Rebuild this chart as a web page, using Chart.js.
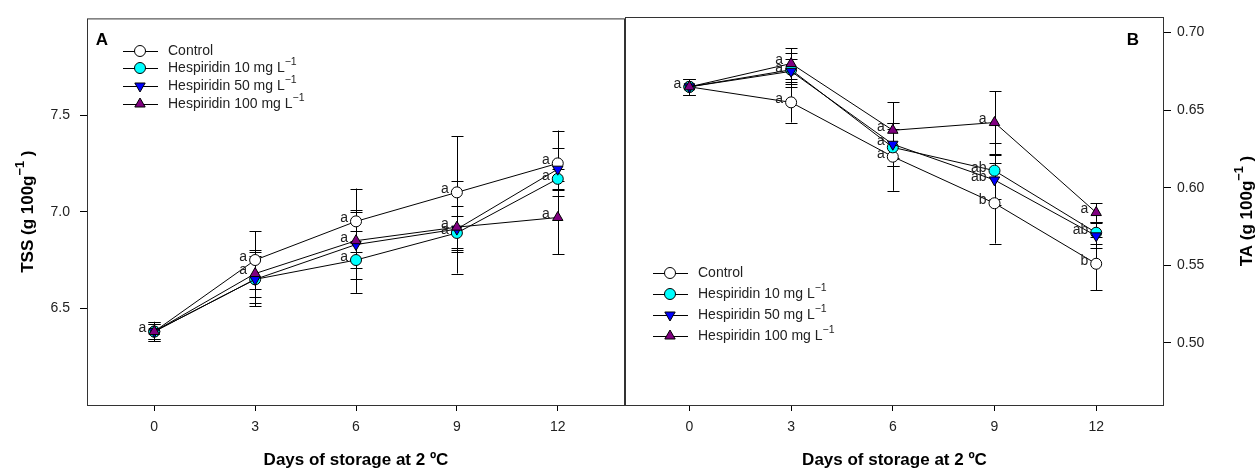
<!DOCTYPE html>
<html>
<head>
<meta charset="utf-8">
<script src="https://cdn.jsdelivr.net/npm/chart.js@4.4.1/dist/chart.umd.min.js"></script>
<style>
  body { margin: 0; background: #fff; width: 1258px; height: 473px; overflow: hidden; position: relative; }
  canvas { position: absolute; top: 0; }
  #tssChart { left: 0; }
  #taChart { left: 625px; }
</style>
</head>
<body>
<canvas id="tssChart" width="625" height="473"></canvas>
<canvas id="taChart" width="633" height="473"></canvas>
<script>
const days = [0, 3, 6, 9, 12];
const seriesNames = ["Control", "Hespiridin 10 mg L", "Hespiridin 50 mg L", "Hespiridin 100 mg L"];

// TSS (panel A)
const tssControl = [6.38, 6.75, 6.95, 7.10, 7.25];
const tssH10 = [6.38, 6.65, 6.75, 6.89, 7.17];
const tssH50 = [6.38, 6.65, 6.83, 6.91, 7.22];
const tssH100 = [6.38, 6.68, 6.85, 6.92, 6.97];
const tssControlErr = [0.05, 0.15, 0.05, 0.29, 0.17];
const tssH10Err = [0.04, 0.12, 0.04, 0.09, 0.05];
const tssH50Err = [0.04, 0.14, 0.18, 0.12, 0.11];
const tssH100Err = [0.05, 0.12, 0.27, 0.24, 0.19];
const tssControlLetters = ["a", "a", "a", "a", "a"];
const tssH10Letters = ["", "", "a", "a", "a"];
const tssH50Letters = ["", "", "", "", ""];
const tssH100Letters = ["", "a", "a", "a", "a"];
const tssTicks = [6.5, 7.0, 7.5];

// TA (panel B)
const taControl = [0.665, 0.655, 0.620, 0.590, 0.551];
const taH10 = [0.665, 0.676, 0.626, 0.611, 0.571];
const taH50 = [0.665, 0.675, 0.628, 0.605, 0.569];
const taH100 = [0.665, 0.680, 0.637, 0.642, 0.584];
const taControlErr = [0.005, 0.013, 0.022, 0.026, 0.017];
const taH10Err = [0.005, 0.011, 0.012, 0.018, 0.007];
const taH50Err = [0.005, 0.008, 0.014, 0.016, 0.008];
const taH100Err = [0.005, 0.010, 0.018, 0.020, 0.006];
const taControlLetters = ["a", "a", "a", "b", "b"];
const taH10Letters = ["", "", "", "ab", "ab"];
const taH50Letters = ["", "a", "a", "ab", ""];
const taH100Letters = ["", "a", "a", "a", "a"];
const taTicks = [0.50, 0.55, 0.60, 0.65, 0.70];

const xTicks = [0, 3, 6, 9, 12];
const FONT = "'Liberation Sans', Arial, sans-serif";

const styles = [
  { bg: "#ffffff", pointStyle: "circle", rotation: 0, order: 4 },
  { bg: "#00ffff", pointStyle: "circle", rotation: 0, order: 3 },
  { bg: "#0000ff", pointStyle: "triangle", rotation: 180, order: 2 },
  { bg: "#800080", pointStyle: "triangle", rotation: 0, order: 1 },
];

function makeDatasets(values, errs, letters) {
  return values.map((vals, i) => ({
    label: seriesNames[i],
    data: days.map((d, j) => ({ x: d, y: vals[j] })),
    err: errs[i],
    letters: letters[i],
    borderColor: "#000",
    borderWidth: 1,
    backgroundColor: styles[i].bg,
    pointBackgroundColor: styles[i].bg,
    pointBorderColor: "#000",
    pointBorderWidth: 1,
    pointStyle: styles[i].pointStyle,
    pointRotation: styles[i].rotation,
    pointRadius: styles[i].pointStyle === "triangle" ? 6 : 5.5,
    order: styles[i].order,
    tension: 0,
  }));
}

// text with superscript "-1"
function drawRich(ctx, x, y, parts, size, bold, align) {
  const f = s => (bold ? "bold " : "") + s + "px " + FONT;
  let w = 0;
  parts.forEach(p => { ctx.font = f(p.sup ? size * 0.75 : size); w += ctx.measureText(p.t).width; });
  let cx = align === "center" ? x - w / 2 : x;
  ctx.textAlign = "left";
  ctx.textBaseline = "middle";
  parts.forEach(p => {
    ctx.font = f(p.sup ? size * 0.75 : size);
    ctx.fillText(p.t, cx, p.sup ? y - size * 0.42 : y);
    cx += ctx.measureText(p.t).width;
  });
}

function drawMarker(ctx, i, x, y) {
  const s = styles[i];
  ctx.save();
  ctx.fillStyle = s.bg;
  ctx.strokeStyle = "#000";
  ctx.lineWidth = 1;
  Chart.helpers.drawPoint(ctx, {
    pointStyle: s.pointStyle,
    rotation: s.rotation,
    radius: s.pointStyle === "triangle" ? 6 : 5.5,
    borderWidth: 1,
  }, x, y);
  ctx.restore();
}

const panelPlugin = {
  id: "panel",
  beforeDatasetsDraw(chart, args, opts) {
    const ctx = chart.ctx;
    const ys = chart.scales.y;
    ctx.save();
    ctx.strokeStyle = "#000";
    ctx.lineWidth = 1;
    chart.data.datasets.forEach((ds, i) => {
      const meta = chart.getDatasetMeta(i);
      ds.data.forEach((p, j) => {
        const x = Math.round(meta.data[j].x) + 0.5;
        const top = ys.getPixelForValue(p.y + ds.err[j]);
        const bot = ys.getPixelForValue(p.y - ds.err[j]);
        ctx.beginPath();
        ctx.moveTo(x, top); ctx.lineTo(x, bot);
        ctx.moveTo(x - 6, Math.round(top) + 0.5); ctx.lineTo(x + 6, Math.round(top) + 0.5);
        ctx.moveTo(x - 6, Math.round(bot) + 0.5); ctx.lineTo(x + 6, Math.round(bot) + 0.5);
        ctx.stroke();
      });
    });
    ctx.restore();
  },
  afterDraw(chart, args, opts) {
    const ctx = chart.ctx;
    const a = chart.chartArea;
    ctx.save();
    // frame
    ctx.strokeStyle = "#333";
    ctx.lineWidth = 1;
    ctx.strokeRect(a.left + 0.5, a.top + 0.5, a.right - a.left - 1, a.bottom - a.top);
    // letters
    ctx.fillStyle = "#222";
    ctx.font = "14px " + FONT;
    ctx.textAlign = "right";
    ctx.textBaseline = "middle";
    chart.data.datasets.forEach((ds, i) => {
      const meta = chart.getDatasetMeta(i);
      ds.letters.forEach((l, j) => {
        if (l) ctx.fillText(l, meta.data[j].x - 8, meta.data[j].y - 3);
      });
    });
    // panel letter
    ctx.fillStyle = "#000";
    ctx.font = "bold 17px " + FONT;
    ctx.textAlign = "center";
    ctx.fillText(opts.tag, opts.tagX, 40);
    // legend
    opts.legendRows.forEach((ry, i) => {
      ctx.strokeStyle = "#000";
      ctx.beginPath();
      ctx.moveTo(opts.legendX, ry + 0.5); ctx.lineTo(opts.legendX + 35, ry + 0.5);
      ctx.stroke();
      drawMarker(ctx, i, opts.legendX + 17, ry);
      ctx.fillStyle = "#222";
      const parts = i === 0 ? [{ t: seriesNames[0] }] : [{ t: seriesNames[i] }, { t: "\u22121", sup: true }];
      drawRich(ctx, opts.legendX + 45, ry, parts, 14, false, "left");
    });
    // y title
    ctx.fillStyle = "#000";
    ctx.translate(opts.titleX, (a.top + a.bottom) / 2);
    ctx.rotate(-Math.PI / 2);
    drawRich(ctx, 0, 0, [{ t: opts.yTitle + " (g 100g" }, { t: "\u22121", sup: true }, { t: " )" }], 17, true, "center");
    ctx.restore();
  },
};

function makeOptions(side, xMin, yMin, yMax, yTicks, digits, panel) {
  return {
    responsive: false,
    animation: false,
    layout: { autoPadding: false, padding: { top: 17, left: 0, right: 0, bottom: 0 } },
    plugins: { legend: { display: false }, tooltip: { enabled: false }, panel: panel },
    scales: {
      x: {
        type: "linear",
        min: xMin,
        max: 14,
        afterBuildTicks: s => { s.ticks = xTicks.map(v => ({ value: v })); },
        afterFit: s => { s.height = 68; },
        grid: { display: true, drawOnChartArea: false, drawTicks: true, tickLength: 6, color: "#000" },
        border: { display: false },
        ticks: { color: "#222", font: { family: FONT, size: 14 }, padding: 8, maxRotation: 0 },
        title: {
          display: true,
          text: "Days of storage at 2 \u00baC",
          color: "#000",
          font: { family: FONT, size: 17, weight: "bold" },
          padding: { top: 0, bottom: 2 },
        },
      },
      y: {
        type: "linear",
        position: side,
        min: yMin,
        max: yMax,
        afterBuildTicks: s => { s.ticks = yTicks.map(v => ({ value: v })); },
        afterFit: s => { s.width = side === "left" ? 87 : 94; },
        grid: { display: true, drawOnChartArea: false, drawTicks: true, tickLength: 7, color: "#000" },
        border: { display: false },
        ticks: {
          color: "#222",
          font: { family: FONT, size: 14 },
          padding: side === "left" ? 10 : 6,
          callback: v => Number(v).toFixed(digits),
        },
      },
    },
  };
}

new Chart(document.getElementById("tssChart").getContext("2d"), {
  type: "line",
  data: {
    datasets: makeDatasets(
      [tssControl, tssH10, tssH50, tssH100],
      [tssControlErr, tssH10Err, tssH50Err, tssH100Err],
      [tssControlLetters, tssH10Letters, tssH50Letters, tssH100Letters]
    ),
  },
  options: makeOptions("left", -2, 6.0, 8.0, tssTicks, 1, {
    tag: "A", tagX: 102, legendX: 123, legendRows: [51, 68, 86, 104], titleX: 28, yTitle: "TSS",
  }),
  plugins: [panelPlugin],
});

new Chart(document.getElementById("taChart").getContext("2d"), {
  type: "line",
  data: {
    datasets: makeDatasets(
      [taControl, taH10, taH50, taH100],
      [taControlErr, taH10Err, taH50Err, taH100Err],
      [taControlLetters, taH10Letters, taH50Letters, taH100Letters]
    ),
  },
  options: makeOptions("right", -1.9, 0.46, 0.71, taTicks, 2, {
    tag: "B", tagX: 508, legendX: 28, legendRows: [273, 294, 315, 336], titleX: 622, yTitle: "TA",
  }),
  plugins: [panelPlugin],
});
</script>
</body>
</html>
